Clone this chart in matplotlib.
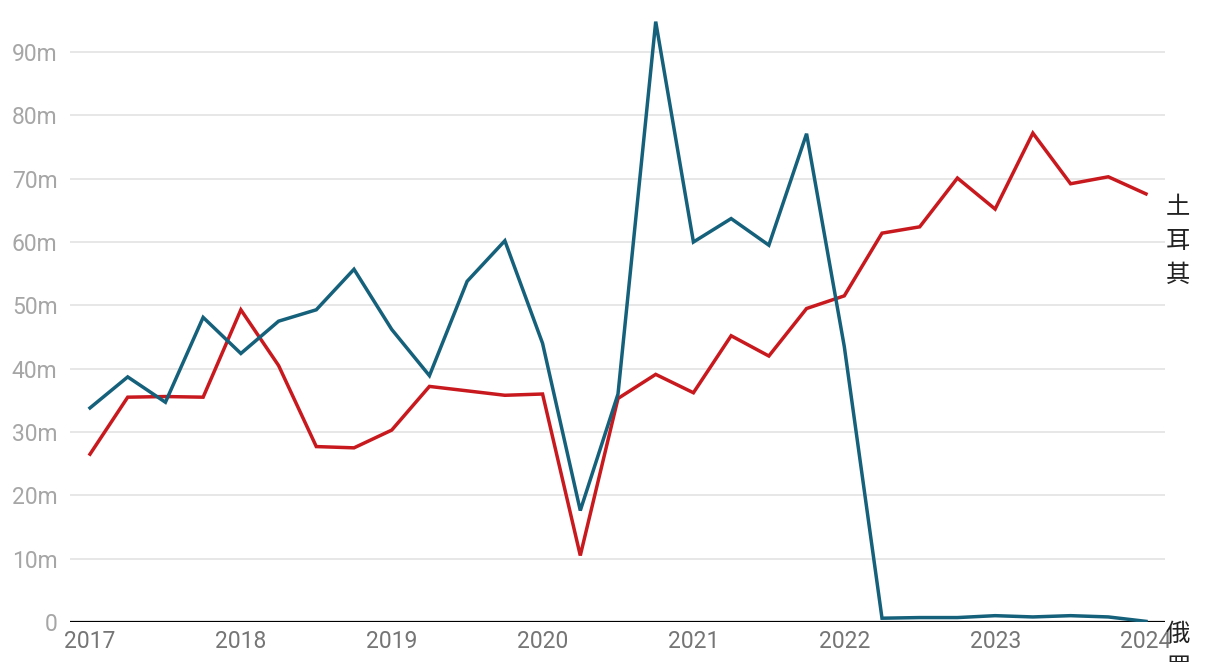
import matplotlib
matplotlib.use("Agg")
import matplotlib.pyplot as plt
import numpy as np
from matplotlib.patches import Rectangle

quarters = [2017 + i * 0.25 for i in range(29)]
turkey = [26.5, 35.5, 35.6, 35.5, 49.3, 40.5, 27.7, 27.5, 30.3, 37.2, 36.5, 35.8,
          36.0, 10.5, 35.3, 39.1, 36.2, 45.2, 42.0, 49.5, 51.5, 61.4, 62.4, 70.1,
          65.2, 77.2, 69.2, 70.3, 67.6]
russia = [33.8, 38.7, 34.7, 48.1, 42.4, 47.5, 49.3, 55.7, 46.2, 38.9, 53.8, 60.2,
          44.0, 17.6, 36.0, 94.8, 60.0, 63.7, 59.5, 77.1, 43.5, 0.6, 0.7, 0.7,
          1.0, 0.8, 1.0, 0.8, 0.1]
series_names = ["土耳其", "俄罗斯"]
colors = ["#c8191e", "#15607a"]
yticks = [0, 10, 20, 30, 40, 50, 60, 70, 80, 90]
ytick_labels = ["0"] + [f"{v}m" for v in yticks[1:]]
xticks = [2017, 2018, 2019, 2020, 2021, 2022, 2023, 2024]

plt.rcParams['font.family'] = ['Roboto', 'DejaVu Sans']

W, H = 1220, 672
fig = plt.figure(figsize=(W / 100, H / 100), dpi=100)
left, right, bottom, top = 70, 1165, 622, 15
ax = fig.add_axes([left / W, 1 - bottom / H, (right - left) / W, (bottom - top) / H])

px_per_year = 150.86
ax.set_xlim(2017 - 20 / px_per_year, 2024 + 19 / px_per_year)
ax.set_ylim(0, (bottom - top) / 63.33 * 10)

for s in ax.spines.values():
    s.set_visible(False)

ax.set_yticks(yticks)
ax.set_yticklabels(ytick_labels)
ax.set_xticks(xticks)
ax.set_xticklabels([str(x) for x in xticks])
ax.tick_params(axis='y', length=0, pad=9, labelsize=16.5, labelcolor='#a6a6a6')
ax.tick_params(axis='x', length=0, pad=6, labelsize=16.5, labelcolor='#757575')
ax.grid(axis='y', color='#e3e3e3', linewidth=1.2)
ax.set_axisbelow(True)
ax.axhline(0, color='black', linewidth=1.6, zorder=2)

for vals, c in [(turkey, colors[0]), (russia, colors[1])]:
    ax.plot(quarters, vals, color=c, linewidth=2.5, zorder=3, solid_joinstyle='miter')

cjk = ['Noto Sans CJK SC', 'DejaVu Sans']
clip = Rectangle((0, 10 / H), 1, 1, transform=fig.transFigure, visible=False)
fig.add_artist(clip)
for name, vals, yoff in [(series_names[0], turkey, 0), (series_names[1], russia, 0)]:
    t = ax.annotate("\n".join(name), xy=(quarters[-1], vals[-1]), xytext=(32, yoff),
                    textcoords='offset pixels', ha='center', va='top',
                    fontsize=17.5, family=cjk, color='#222222', linespacing=1.4,
                    annotation_clip=False)
    t.set_clip_path(clip)

fig.savefig("out.png", dpi=100)
